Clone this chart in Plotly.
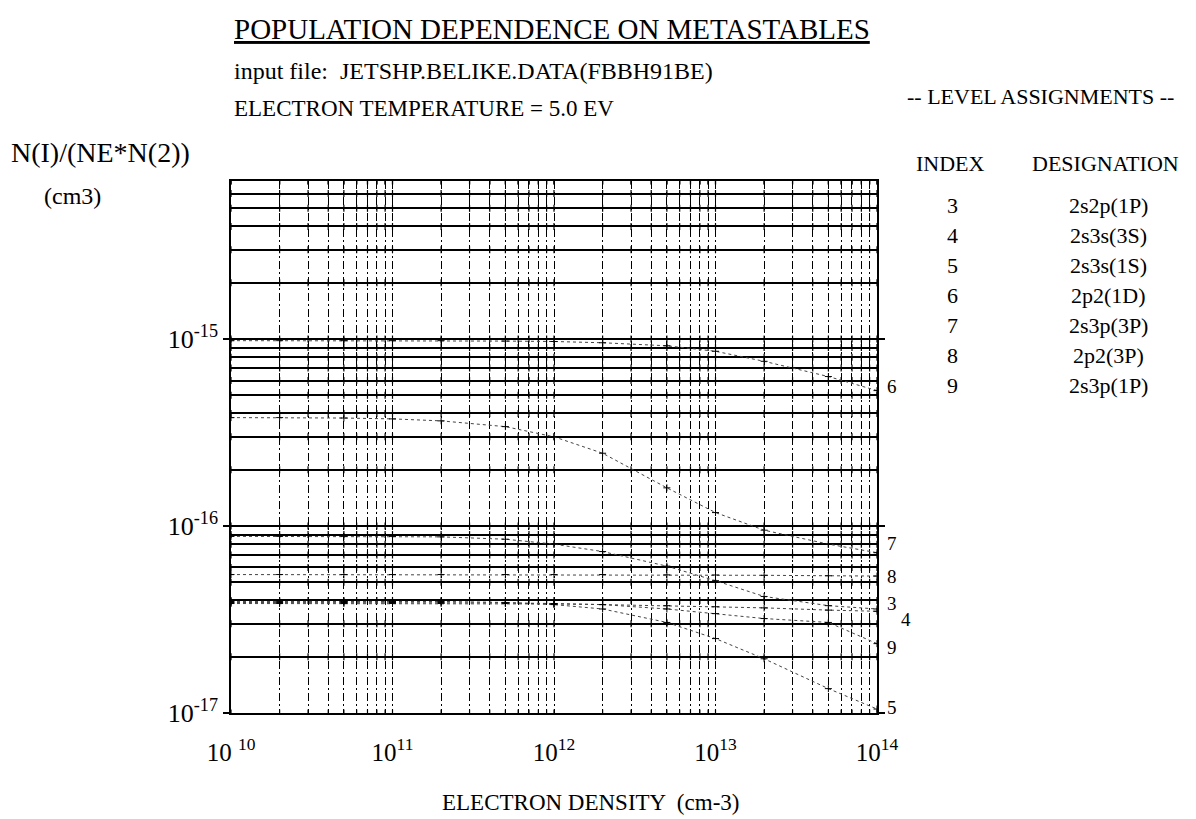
import numpy as np
import plotly.graph_objects as go

# Electron density grid (cm-3)
density = [1e10, 2e10, 5e10, 1e11, 2e11, 5e11, 1e12, 2e12, 5e12, 1e13, 2e13, 5e13, 1e14]

# N(I)/(NE*N(2)) for each level (cm3)
level_3 = [8.8e-17, 8.8e-17, 8.8e-17, 8.8e-17, 8.75e-17, 8.5e-17, 8.0e-17, 7.3e-17, 6.1e-17, 5.1e-17, 4.2e-17, 3.75e-17, 3.6e-17]
level_4 = [3.85e-17, 3.85e-17, 3.85e-17, 3.85e-17, 3.85e-17, 3.85e-17, 3.83e-17, 3.8e-17, 3.75e-17, 3.7e-17, 3.65e-17, 3.55e-17, 3.5e-17]
level_5 = [3.95e-17, 3.95e-17, 3.95e-17, 3.95e-17, 3.95e-17, 3.9e-17, 3.8e-17, 3.6e-17, 3.05e-17, 2.5e-17, 1.95e-17, 1.35e-17, 1.05e-17]
level_6 = [9.8e-16, 9.8e-16, 9.8e-16, 9.8e-16, 9.8e-16, 9.75e-16, 9.7e-16, 9.55e-16, 9.2e-16, 8.6e-16, 7.6e-16, 6.3e-16, 5.3e-16]
level_7 = [3.8e-16, 3.8e-16, 3.78e-16, 3.74e-16, 3.65e-16, 3.4e-16, 3.0e-16, 2.45e-16, 1.6e-16, 1.18e-16, 9.5e-17, 8.0e-17, 7.2e-17]
level_8 = [5.5e-17, 5.5e-17, 5.5e-17, 5.5e-17, 5.5e-17, 5.5e-17, 5.5e-17, 5.5e-17, 5.48e-17, 5.47e-17, 5.45e-17, 5.42e-17, 5.4e-17]
level_9 = [3.9e-17, 3.9e-17, 3.9e-17, 3.9e-17, 3.9e-17, 3.88e-17, 3.85e-17, 3.8e-17, 3.6e-17, 3.4e-17, 3.2e-17, 3.05e-17, 2.35e-17]

levels = {"3": level_3, "4": level_4, "5": level_5, "6": level_6,
          "7": level_7, "8": level_8, "9": level_9}

# Level assignment table
index_col = ["3", "4", "5", "6", "7", "8", "9"]
designation_col = ["2s2p(1P)", "2s3s(3S)", "2s3s(1S)", "2p2(1D)", "2s3p(3P)", "2p2(3P)", "2s3p(1P)"]

# Curve-end label nudges (px): (xshift, yshift)
label_nudge = {"6": (8, 4), "7": (8, 9), "8": (8, 0), "3": (8, 5),
               "4": (22, -8), "9": (8, -4), "5": (8, 2)}

# Axis ticks
x_decades = [1e10, 1e11, 1e12, 1e13, 1e14]
x_ticktext = ["10 <sup>10</sup>", "10<sup>11</sup>", "10<sup>12</sup>", "10<sup>13</sup>", "10<sup>14</sup>"]
y_decades = [1e-17, 1e-16, 1e-15]
y_ticktext = ["10<sup>-17</sup>", "10<sup>-16</sup>", "10<sup>-15</sup>"]
x_minor = [m * d for d in [1e10, 1e11, 1e12, 1e13] for m in range(2, 10)]
y_minor = [m * d for d in [1e-17, 1e-16] for m in range(2, 10)] + [m * 1e-15 for m in range(2, 8)]
y_top = 7e-15

FONT = "Liberation Serif"
INK = "black"

W, H = 1196, 819
L, R, T, B = 231, 319, 181, 106
pw, ph = W - L - R, H - T - B


def px_x(v):
    return (v - L) / pw


def px_y(v):
    return 1 - (v - T) / ph


fig = go.Figure()

# small cross ticks where the grid lines meet
gx = sorted(x_decades + x_minor)
gy = sorted(y_decades + y_minor + [y_top])
cx = [a for a in gx for _ in gy]
cy = [b for _ in gx for b in gy]
fig.add_trace(go.Scatter(x=cx, y=cy, mode="markers", showlegend=False, hoverinfo="skip",
                         marker=dict(symbol="line-ns", size=5, line=dict(color=INK, width=1.2))))

for name, vals in levels.items():
    fig.add_trace(go.Scatter(
        x=density, y=vals, mode="lines+markers", name=name,
        line=dict(color="#444444", width=1.0, dash="dot"),
        marker=dict(symbol="cross-thin", size=5, line=dict(color=INK, width=1)),
        showlegend=False, hoverinfo="skip",
    ))

# curve labels at the right end of each curve
for name, vals in levels.items():
    dx, dy = label_nudge[name]
    fig.add_annotation(x=np.log10(density[-1]), y=np.log10(vals[-1]), xref="x", yref="y",
                       text=name, showarrow=False, xanchor="left", yanchor="middle",
                       xshift=dx, yshift=dy, font=dict(family=FONT, size=19, color=INK))

# header texts (pixel placement)
fig.add_annotation(x=px_x(232), y=px_y(29), xref="paper", yref="paper",
                   text="POPULATION DEPENDENCE ON METASTABLES",
                   showarrow=False, xanchor="left", yanchor="middle",
                   font=dict(family=FONT, size=29, color=INK, lineposition="under"))
header = [
    ("input file:  JETSHP.BELIKE.DATA(FBBH91BE)", 232, 71, "left", 24),
    ("ELECTRON TEMPERATURE = 5.0 EV", 232, 109, "left", 23),
    ("N(I)/(NE*N(2))", 100, 152, "center", 28),
    ("(cm3)", 72, 196, "center", 24),
    ("-- LEVEL ASSIGNMENTS --", 1040, 97, "center", 22),
    ("INDEX", 950, 163, "center", 22),
    ("DESIGNATION", 1105, 163, "center", 22),
    ("ELECTRON DENSITY  (cm-3)", 590, 802, "center", 23),
]
for txt, px, py, anc, sz in header:
    fig.add_annotation(x=px_x(px), y=px_y(py), xref="paper", yref="paper", text=txt,
                       showarrow=False, xanchor=anc, yanchor="middle",
                       font=dict(family=FONT, size=sz, color=INK))
for i, (idx, des) in enumerate(zip(index_col, designation_col)):
    fig.add_annotation(x=px_x(952), y=px_y(205 + 30 * i), xref="paper", yref="paper", text=idx,
                       showarrow=False, xanchor="center", yanchor="middle",
                       font=dict(family=FONT, size=22, color=INK))
    fig.add_annotation(x=px_x(1108), y=px_y(205 + 30 * i), xref="paper", yref="paper", text=des,
                       showarrow=False, xanchor="center", yanchor="middle",
                       font=dict(family=FONT, size=22, color=INK))

fig.update_layout(
    width=W, height=H, margin=dict(l=L, r=R, t=T, b=B),
    paper_bgcolor="white", plot_bgcolor="white",
    font=dict(family=FONT, color=INK),
    xaxis=dict(type="log", range=[10, 14], tickvals=x_decades, ticktext=x_ticktext,
               tickfont=dict(family=FONT, size=25, color=INK), ticks="", ticklabelstandoff=16,
               showgrid=True, gridcolor=INK, gridwidth=1, griddash="8px,3px,2px,3px",
               minor=dict(tickvals=x_minor, showgrid=True, gridcolor=INK, gridwidth=1,
                          griddash="8px,3px,2px,3px", ticks=""),
               showline=True, linecolor=INK, linewidth=1.5, mirror=True, zeroline=False),
    yaxis=dict(type="log", range=[-17, np.log10(y_top)], tickvals=y_decades, ticktext=y_ticktext,
               tickfont=dict(family=FONT, size=26, color=INK), ticks="outside", ticklen=6,
               tickcolor=INK, tickwidth=1.5,
               showgrid=True, gridcolor=INK, gridwidth=1.6,
               minor=dict(tickvals=y_minor, showgrid=True, gridcolor=INK, gridwidth=1.6, ticks=""),
               showline=True, linecolor=INK, linewidth=1.5, mirror="allticks", zeroline=False),
)

fig.write_html("out.html")
